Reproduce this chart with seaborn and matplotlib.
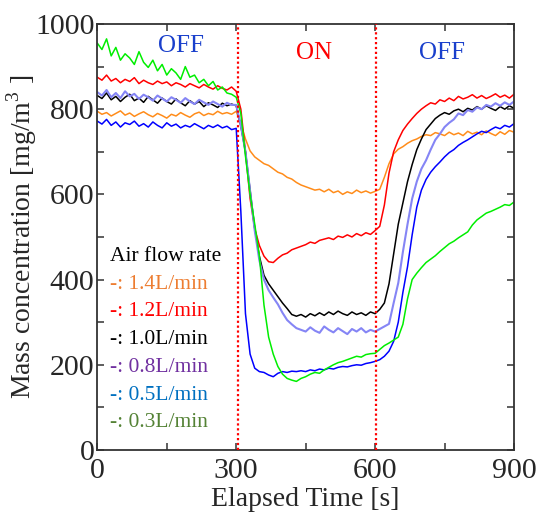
import numpy as np
import pandas as pd
import matplotlib
matplotlib.use('Agg')
import matplotlib.pyplot as plt
from matplotlib.ticker import MultipleLocator
import seaborn as sns

sns.set_theme(style='ticks')
plt.rcParams['font.family'] = ['Liberation Serif', 'DejaVu Serif']
plt.rcParams['mathtext.fontset'] = 'custom'
plt.rcParams['mathtext.rm'] = 'Liberation Serif'

# elapsed time grid [s]
time_s = list(range(0, 901, 10))

# mass concentration [mg/m3], every 10 s
rate_1_4 = [795, 788, 792, 784, 790, 796, 786, 791, 783, 789, 794, 787, 782, 790, 785,
            779, 788, 784, 792, 786, 781, 789, 793, 785, 790, 787, 795, 789, 792, 788,
            795, 765, 730, 702, 688, 680, 672, 668, 660, 652, 648, 640, 636, 628, 622,
            618, 614, 610, 612, 606, 612, 604, 608, 600, 606, 602, 610, 604, 608, 603,
            607, 612, 640, 672, 695, 706, 712, 720, 726, 730, 736, 740, 738, 745, 742,
            738, 746, 740, 744, 738, 748, 742, 746, 740, 749, 743, 738, 747, 741, 750,
            746]
rate_1_2 = [875, 868, 880, 866, 872, 862, 870, 865, 874, 860, 868, 862, 858, 866, 860,
            864, 855, 862, 858, 852, 860, 855, 850, 858, 852, 847, 855, 849, 845, 852,
            842, 800, 700, 590, 520, 480, 455, 442, 440, 450, 458, 462, 470, 474, 478,
            482, 488, 485, 492, 495, 498, 494, 502, 499, 505, 500, 508, 503, 510, 506,
            515, 525, 575, 650, 700, 728, 750, 765, 778, 790, 800, 808, 815, 812, 822,
            818, 826, 820, 830, 824, 828, 834, 826, 832, 825, 830, 836, 828, 833, 826,
            835]
rate_1_0 = [832, 825, 838, 822, 830, 818, 828, 835, 820, 826, 816, 830, 822, 814, 826,
            818, 812, 824, 815, 808, 820, 812, 818, 806, 815, 810, 804, 814, 808, 812,
            808, 760, 700, 610, 520, 455, 410, 390, 375, 360, 345, 332, 318, 314, 318,
            312, 320, 315, 322, 316, 324, 318, 326, 320, 316, 324, 318, 322, 316, 324,
            320, 330, 345, 390, 460, 530, 580, 630, 670, 705, 730, 752, 765, 778, 786,
            792, 788, 796, 800, 794, 802, 798, 806, 800, 808, 802, 797, 806, 800, 808,
            802]
rate_0_8 = [840, 832, 845, 828, 838, 826, 842, 830, 836, 824, 834, 828, 820, 832, 825,
            818, 828, 822, 815, 826, 818, 812, 822, 816, 810, 818, 812, 806, 815, 810,
            810, 762, 700, 608, 515, 445, 400, 375, 358, 342, 322, 305, 295, 286, 282,
            278, 288, 280, 275, 290, 282, 276, 286, 279, 272, 284, 278, 286, 276, 282,
            278, 284, 290, 296, 345, 392, 465, 530, 590, 630, 660, 680, 705, 728, 742,
            758, 768, 776, 790, 786, 798, 794, 804, 800, 810, 806, 814, 808, 816, 810,
            818]
rate_0_5 = [772, 765, 776, 762, 770, 758, 768, 764, 772, 760, 766, 758, 770, 762, 756,
            768, 760, 765, 756, 762, 758, 766, 760, 754, 762, 757, 763, 756, 760, 752,
            755, 560, 320, 225, 192, 184, 182, 176, 172, 180, 184, 182, 185, 184, 186,
            184, 188, 186, 190, 188, 192, 190, 194, 196, 195, 198, 200, 199, 203, 205,
            208, 212, 220, 232, 255, 300, 370, 430, 505, 570, 610, 635, 652, 665, 676,
            688, 698, 705, 715, 722, 728, 735, 742, 748, 745, 752, 758, 754, 762, 758,
            766]
rate_0_3 = [955, 940, 965, 925, 945, 915, 930, 920, 905, 935, 910, 898, 915, 890, 905,
            880, 895, 885, 870, 900, 875, 880, 862, 870, 855, 865, 845, 852, 838, 835,
            828, 790, 690, 600, 530, 455, 340, 265, 225, 196, 178, 168, 164, 161, 168,
            172, 178, 182, 180, 188, 194, 200, 205, 208, 212, 216, 220, 218, 224, 226,
            227, 236, 245, 251, 258, 265, 295, 355, 400, 415, 428, 440, 448, 456, 466,
            475, 484, 490, 498, 505, 512, 528, 540, 548, 556, 560, 565, 570, 576, 574,
            582]

series_names = ['1.4L/min', '1.2L/min', '1.0L/min', '0.8L/min', '0.5L/min', '0.3L/min']
series_values = [rate_1_4, rate_1_2, rate_1_0, rate_0_8, rate_0_5, rate_0_3]
line_colors = ['#FF8C1A', '#FF0000', '#000000', '#8585F5', '#0000FF', '#00EE00']
text_colors = ['#ED7D31', '#FF0000', '#000000', '#7030A0', '#0070C0', '#548235']

switch_times = [303, 601]
phase_labels = ['OFF', 'ON', 'OFF']

df = pd.concat([
    pd.DataFrame({'time': time_s, 'conc': vals, 'rate': name})
    for name, vals in zip(series_names, series_values)
], ignore_index=True)

fig = plt.figure(figsize=(5.37, 5.21), dpi=100)
ax = fig.add_axes([0.1812, 0.1363, 0.776, 0.8177])

for name, color in zip(series_names, line_colors):
    sns.lineplot(
        data=df[df['rate'] == name],
        x='time', y='conc',
        color=color,
        linewidth=1.5 if name == '0.8L/min' else 1.1,
        estimator=None, sort=False,
        ax=ax
    )

for t in switch_times:
    ax.axvline(t, color='#FF0000', linestyle=(0, (1, 1.2)), linewidth=1.6, zorder=5)

# phase labels
ax.text(180, 948, phase_labels[0], color='#1A40CC', fontsize=18, ha='center', va='center')
ax.text(468, 932, phase_labels[1], color='#FF0000', fontsize=18, ha='center', va='center')
ax.text(745, 932, phase_labels[2], color='#1A40CC', fontsize=18, ha='center', va='center')

# text legend
ax.text(27, 453, 'Air flow rate', color='black', fontsize=15.5, ha='left', va='center')
for i, (name, color) in enumerate(zip(series_names, text_colors)):
    ax.text(27, 389 - i * 65, '-: ' + name, color=color, fontsize=15.5,
            ha='left', va='center')

ax.set_xlim(0, 900)
ax.set_ylim(0, 1000)
ax.xaxis.set_major_locator(MultipleLocator(300))
ax.xaxis.set_minor_locator(MultipleLocator(150))
ax.yaxis.set_major_locator(MultipleLocator(200))
ax.yaxis.set_minor_locator(MultipleLocator(100))
ax.tick_params(which='both', direction='in', top=True, right=True,
               length=5, width=1.1, color='#333333', labelsize=21.5)
ax.tick_params(axis='x', pad=6)
ax.tick_params(axis='y', pad=2)

for spine in ax.spines.values():
    spine.set_color('#333333')
    spine.set_linewidth(1.3)

ax.set_xlabel('Elapsed Time [s]', fontsize=20, labelpad=2)
ax.set_ylabel('Mass concentration [mg/m$^3$ ]', fontsize=20, labelpad=-3)

fig.savefig('out.png', dpi=100)
